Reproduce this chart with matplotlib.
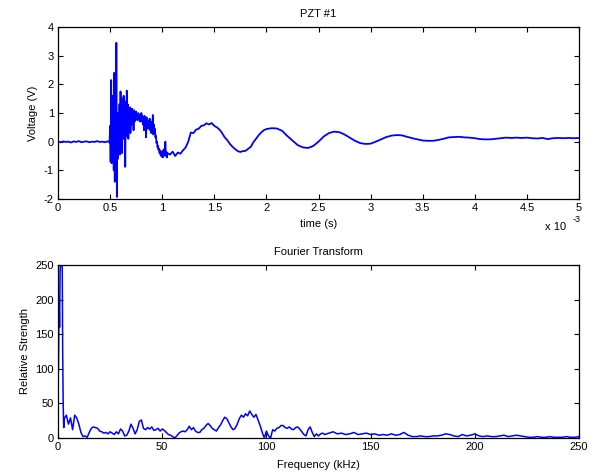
import numpy as np
import matplotlib
matplotlib.use("Agg")
import matplotlib.pyplot as plt
from matplotlib.ticker import FuncFormatter

plt.rcParams['font.family'] = ['Liberation Sans', 'DejaVu Sans']
plt.rcParams['font.size'] = 8
plt.rcParams['axes.unicode_minus'] = False

# ---------------- PZT #1 voltage trace (time in ms, voltage in V) ----------------
pre_t_ms = np.linspace(0.0, 0.475, 20)
pre_v = [0.00, -0.02, 0.01, -0.01, 0.00, -0.03, 0.01, -0.01, 0.02, -0.02,
         0.00, 0.01, -0.02, 0.00, -0.01, 0.02, -0.01, 0.00, -0.02, 0.01]

burst_t_ms = np.linspace(0.49, 1.05, 113)
burst_v = [0.00, -0.03, 0.55, -0.70, 2.15, -0.75, 1.60, -0.40, 1.20, -1.00,
           2.40, -1.40, 2.00, -1.20, 3.45, -1.93, 1.00, -0.60, 0.90, -0.30,
           1.30, -0.45, 1.75, 0.20, 1.50, -0.40, 1.20, 0.10, 1.60, 0.30,
           1.10, -0.88, 1.40, 0.20, 1.78, 0.40, 1.30, 0.10, 1.10, 0.50,
           1.20, 0.30, 1.05, 0.60, 1.15, 0.70, 0.95, 0.40, 1.10, 0.70,
           0.95, 0.75, 1.05, 0.80, 0.95, 0.75, 1.00, 0.80, 0.90, 0.70,
           0.95, 0.75, 1.00, 0.70, 0.90, 0.60, 0.85, 0.40, 0.90, 0.65,
           0.80, 0.15, 0.85, 0.55, 0.75, 0.45, 0.70, 0.50, 0.80, 0.40,
           0.70, 0.30, 0.65, 0.45, 0.93, 0.25, 0.60, 0.35, 0.45, 0.15,
           0.20, -0.05, 0.00, -0.20, -0.15, -0.30, -0.25, -0.40, -0.30, -0.48,
           -0.35, -0.52, -0.38, -0.55, -0.30, -0.50, -0.25, -0.45, 0.00, -0.50,
           -0.35, -0.55, -0.40]

decay1_t_ms = np.linspace(1.075, 2.0, 38)
decay1_v = [-0.45, -0.35, -0.50, -0.38, -0.42, -0.30, -0.20, 0.00, 0.32, 0.30,
            0.42, 0.45, 0.55, 0.57, 0.64, 0.60, 0.65, 0.55, 0.50, 0.42,
            0.30, 0.15, 0.05, -0.08, -0.18, -0.26, -0.33, -0.36, -0.33, -0.32,
            -0.25, -0.18, -0.02, 0.10, 0.22, 0.32, 0.40, 0.44]

decay2_t_ms = np.linspace(2.05, 5.0, 60)
decay2_v = [0.47, 0.46, 0.38, 0.20, 0.04, -0.12, -0.20, -0.22, -0.15, 0.00,
            0.18, 0.30, 0.35, 0.33, 0.25, 0.14, 0.03, -0.05, -0.08, -0.07,
            0.00, 0.08, 0.16, 0.21, 0.23, 0.22, 0.17, 0.12, 0.08, 0.04,
            0.03, 0.03, 0.06, 0.10, 0.15, 0.16, 0.17, 0.15, 0.14, 0.12,
            0.09, 0.08, 0.08, 0.10, 0.12, 0.14, 0.13, 0.14, 0.13, 0.14,
            0.12, 0.11, 0.13, 0.09, 0.12, 0.13, 0.12, 0.13, 0.12, 0.13]

# ---------------- Fourier transform (frequency in kHz) ----------------
low_f_khz = np.linspace(0.0, 3.0, 13)
low_amp = [72, 110, 200, 160, 240, 255, 262, 258, 262, 120, 45, 15, 28]

mid_f_khz = np.arange(4, 131)
mid_amp = [33, 20, 29, 12, 33, 29, 20, 8, 2, 3,
           1, 8, 14, 16, 15, 14, 10, 9, 7, 8,
           6, 9, 7, 5, 9, 6, 13, 10, 3, 4,
           10, 20, 14, 6, 12, 24, 26, 14, 12, 15,
           13, 16, 11, 12, 14, 10, 13, 11, 8, 5,
           4, 2, 0, 3, 7, 9, 10, 9, 12, 17,
           12, 15, 10, 8, 8, 12, 14, 18, 21, 18,
           14, 12, 10, 15, 19, 25, 30, 28, 22, 16,
           12, 14, 20, 28, 33, 30, 35, 32, 39, 34,
           30, 34, 26, 18, 8, 0, 10, 3, 0, 12,
           10, 14, 15, 18, 18, 15, 14, 16, 13, 12,
           15, 16, 13, 9, 5, 3, 12, 16, 8, 2,
           6, 3, 6, 7, 5, 6, 7]

high_f_khz = np.linspace(132, 250, 60)
high_amp = [9, 6, 7, 5, 6, 8, 5, 6, 7, 5,
            6, 4, 5, 4, 6, 4, 5, 8, 4, 2,
            2, 3, 2, 2, 3, 3, 4, 6, 5, 3,
            2, 5, 3, 4, 6, 3, 2, 3, 2, 2,
            3, 4, 2, 3, 4, 3, 2, 1, 1, 2,
            1, 1, 2, 1, 1, 1, 2, 1, 1, 2]

time_s = np.concatenate([pre_t_ms, burst_t_ms, decay1_t_ms, decay2_t_ms]) * 1e-3
voltage = np.concatenate([pre_v, burst_v, decay1_v, decay2_v])
freq_khz = np.concatenate([low_f_khz, mid_f_khz, high_f_khz])
strength = np.concatenate([low_amp, mid_amp, high_amp])

line_color = '#0000ff'
fs = 8

fig = plt.figure(figsize=(5.95, 4.73), dpi=100)
ax1 = fig.add_axes([0.0975, 0.5793, 0.8756, 0.3636])
ax2 = fig.add_axes([0.0975, 0.0740, 0.8756, 0.3658])


def style_axes(ax):
    ax.tick_params(direction='in', length=3.5, width=0.8, top=True, right=True,
                   labelsize=fs, pad=3)
    for sp in ax.spines.values():
        sp.set_linewidth(0.9)


# Time-domain trace
ax1.plot(time_s, voltage, color=line_color, lw=1.3)
ax1.set_xlim(0, 5e-3)
ax1.set_ylim(-2, 4)
ax1.set_xticks(np.arange(0, 5.01e-3, 0.5e-3))
ax1.set_yticks(np.arange(-2, 5, 1))
ax1.xaxis.set_major_formatter(FuncFormatter(lambda v, p: f"{v * 1e3:g}"))
ax1.set_title('PZT #1', fontsize=fs, pad=7)
ax1.set_xlabel('time (s)', fontsize=fs, labelpad=4)
ax1.set_ylabel('Voltage (V)', fontsize=fs, labelpad=4)
ax1.text(0.935, -0.165, 'x 10', transform=ax1.transAxes, fontsize=fs,
         ha='left', va='center')
ax1.text(0.988, -0.122, '-3', transform=ax1.transAxes, fontsize=6.5,
         ha='left', va='center')
style_axes(ax1)

# Frequency spectrum
ax2.plot(freq_khz, strength, color=line_color, lw=1.1)
ax2.set_xlim(0, 250)
ax2.set_ylim(0, 250)
ax2.set_xticks(np.arange(0, 251, 50))
ax2.set_yticks(np.arange(0, 251, 50))
ax2.set_title('Fourier Transform', fontsize=fs, pad=7)
ax2.set_xlabel('Frequency (kHz)', fontsize=fs, labelpad=6)
ax2.set_ylabel('Relative Strength', fontsize=fs, labelpad=4)
style_axes(ax2)

fig.savefig('out.png', dpi=100)
